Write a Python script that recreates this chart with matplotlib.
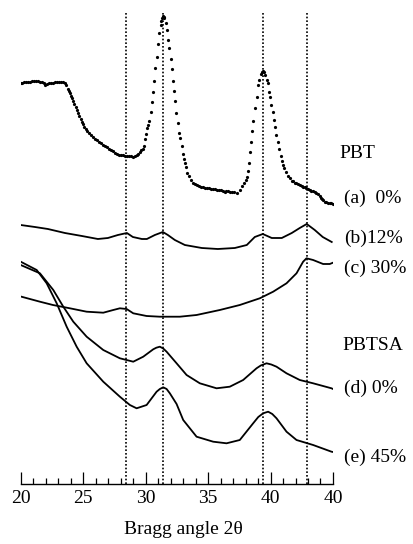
import matplotlib
matplotlib.use("Agg")
import matplotlib.pyplot as plt
from matplotlib.ticker import MultipleLocator, FixedLocator, FixedFormatter

plt.rcParams["font.family"] = ["Liberation Serif", "DejaVu Serif"]

# (a) PBT 0 % -- recorded point by point (drawn as dots)
a_2theta = [20.0, 20.10, 20.26, 20.42, 20.58, 20.74, 20.90, 21.06, 21.22, 21.38, 21.54, 21.70,
            21.86, 21.98, 22.10, 22.26, 22.42, 22.58, 22.74, 22.90, 23.06, 23.22, 23.38, 23.54,
            23.66, 23.78, 23.86, 23.94, 24.02, 24.10, 24.21, 24.30, 24.40, 24.50, 24.61, 24.70,
            24.80, 24.90, 25.01, 25.10, 25.22, 25.34, 25.46, 25.62, 25.78, 25.94, 26.10, 26.26,
            26.42, 26.58, 26.74, 26.90, 27.06, 27.22, 27.38, 27.54, 27.70, 27.86, 28.02, 28.18,
            28.34, 28.50, 28.66, 28.82, 28.98, 29.14, 29.30, 29.42, 29.54, 29.66, 29.76, 29.86,
            29.94, 30.02, 30.13, 30.21, 30.26, 30.40, 30.48, 30.56, 30.66, 30.77, 30.88, 30.98,
            31.06, 31.20, 31.25, 31.30, 31.38, 31.45, 31.49, 31.60, 31.68, 31.81, 31.89, 32.00,
            32.08, 32.18, 32.26, 32.34, 32.45, 32.56, 32.66, 32.74, 32.88, 32.96, 33.06, 33.14,
            33.22, 33.33, 33.44, 33.60, 33.81, 33.94, 34.10, 34.26, 34.42, 34.58, 34.74, 34.90,
            35.06, 35.22, 35.38, 35.54, 35.70, 35.86, 36.02, 36.18, 36.34, 36.46, 36.58, 36.74,
            36.90, 37.06, 37.28, 37.54, 37.73, 37.89, 38.00, 38.08, 38.16, 38.26, 38.34, 38.42,
            38.53, 38.61, 38.74, 38.88, 39.01, 39.09, 39.20, 39.28, 39.36, 39.46, 39.54, 39.68,
            39.76, 39.86, 39.97, 40.05, 40.16, 40.26, 40.37, 40.45, 40.56, 40.66, 40.80, 40.88,
            41.01, 41.09, 41.20, 41.36, 41.54, 41.73, 41.82, 41.94, 42.06, 42.21, 42.34, 42.48,
            42.61, 42.74, 42.88, 43.01, 43.14, 43.28, 43.41, 43.54, 43.68, 43.81, 43.94, 44.04,
            44.13, 44.24, 44.34, 44.48, 44.61, 44.74, 44.88, 45.0]
a_int = [401, 401, 401.5, 402, 401.5, 402, 402.5, 403, 402.5, 403, 402, 402,
         401, 399, 399.5, 400.5, 401, 401, 401.5, 401.5, 402, 402, 401.5, 400.5,
         398.5, 395, 392.5, 390.5, 388, 385.5, 382.5, 379.5, 376.5, 373.5, 370.5, 367.5,
         364.5, 362, 359.5, 357, 354.5, 352.5, 351, 349, 347, 345, 343.5, 342,
         340.5, 339, 337.5, 336.5, 335, 333.5, 332.5, 331, 330, 329, 328.5, 328.5,
         328, 328, 327.5, 328, 327, 327.5, 328.5, 330, 332, 334, 335, 338.3,
         344.7, 349.7, 355.7, 359, 363.3, 371.7, 382.3, 392.3, 403, 415.7, 426.7, 439.7,
         450.7, 459, 463.3, 466.3, 468, 467, 465.7, 461.3, 454, 444, 436.3, 425,
         414.7, 403, 393, 383, 371.3, 361.3, 351.3, 346.3, 338.3, 330, 325, 320.7,
         316.7, 311.3, 308, 304, 300.7, 299.5, 298.5, 297.5, 297, 296.5, 296, 295.5,
         295.5, 295, 295, 294.5, 294, 294, 293.5, 293, 291.5, 293, 292.5, 292,
         291.5, 292, 290.7, 294, 298, 300.7, 304, 307.3, 313.3, 321.3, 332.3, 342.3,
         353.3, 363.3, 376.3, 386.7, 399.3, 404, 410, 412.3, 413.3, 412.3, 409, 404,
         400.7, 392.3, 387.3, 379, 372.3, 364, 357.3, 349, 342.3, 334.7, 328, 323,
         319, 315.7, 312.3, 308, 305.7, 303.3, 302.5, 301.3, 300.5, 299.7, 299, 298,
         297.3, 296.7, 295.7, 294.7, 294, 293.3, 292.5, 291.7, 291, 290, 287.5, 286,
         284.7, 283.5, 282.3, 281.8, 281.3, 281, 280.7, 279.7]

# (b) 12 %
b_2theta = [20.0, 21.14, 22.18, 23.54, 24.90, 26.18, 26.98, 27.78, 28.50, 28.98, 29.70, 30.10,
            30.74, 31.38, 31.78, 32.34, 33.14, 34.50, 35.78, 37.14, 38.10, 38.74, 39.38, 40.10,
            40.90, 41.70, 42.34, 42.90, 43.54, 44.18, 44.90]
b_int = [259, 257, 255, 251, 248, 245, 246, 249, 251, 247, 245, 245,
         249, 252, 249, 244, 239, 236, 235, 236, 239, 247, 250, 246,
         246, 251, 256, 260, 254, 247, 242]

# (c) 30 %
c_2theta = [20.0, 21.54, 22.58, 23.94, 25.28, 26.61, 27.41, 27.94, 28.48, 29.01, 30.08, 31.14,
            32.74, 34.08, 35.94, 37.54, 39.14, 40.21, 41.28, 42.08, 42.61, 42.88, 43.41, 44.21,
            44.74, 45.0]
c_int = [187.5, 182.3, 179, 175.7, 172.3, 171.3, 174, 175.7, 175, 170.7, 168, 167.3,
         167.3, 169, 174, 179, 185.7, 192.3, 200.7, 210.7, 222.3, 225.7, 224, 220,
         220, 221.3]

# PBTSA (d) 0 %
d_2theta = [20.0, 21.54, 22.61, 23.41, 24.21, 25.28, 26.61, 27.94, 29.01, 29.81, 30.61, 30.86,
            31.14, 31.41, 31.68, 32.48, 33.28, 34.34, 35.68, 36.74, 37.81, 38.88, 39.22, 39.68,
            40.06, 40.48, 41.28, 42.34, 43.41, 44.88, 45.0]
d_int = [219, 210.7, 194, 177.3, 162.3, 147.3, 134, 125.7, 122.3, 127.3, 134.7, 136.3,
         137.3, 135.5, 132.3, 120.7, 109, 100.7, 95.7, 97.3, 104, 115.7, 118.5, 120.7,
         119.5, 117.3, 110.7, 104, 100.7, 95.7, 95]

# PBTSA (e) 45 %
e_2theta = [20.0, 21.28, 22.08, 22.88, 23.68, 24.48, 25.28, 26.61, 27.94, 28.74, 29.28, 30.08,
            30.88, 31.14, 31.41, 31.68, 31.94, 32.48, 33.01, 34.08, 35.41, 36.48, 37.54, 38.61,
            39.02, 39.41, 39.81, 40.14, 40.48, 41.28, 42.08, 43.41, 44.88, 45.0]
e_int = [222.3, 214, 200.7, 180.7, 157.3, 137.3, 120.7, 102.3, 87.3, 79, 75.7, 79,
         92.3, 95, 96.7, 95, 90.7, 80, 64, 47.3, 42.3, 40.7, 44, 60.7,
         67, 70.7, 72.3, 70, 65.7, 52.3, 44, 39, 32.3, 32]

# reflection positions marked with dotted guides
ref_lines = [28.45, 31.38, 39.38, 42.9]
ref_top = 472

tick_pos = [20, 25, 30, 35, 40, 45]
tick_lab = ["20", "25", "30", "35", "40", "40"]

fig = plt.figure(figsize=(4.14, 5.44), dpi=100)
ax = fig.add_axes([0.05, 0.1103, 0.7543, 0.8897])
ax.set_xlim(20, 45)
ax.set_ylim(0, 484)

ax.vlines(ref_lines, 0, ref_top, colors="black", linestyles=(0, (1.0, 1.2)), linewidth=1.2)

ax.plot(a_2theta, a_int, linestyle="none", marker="o", markersize=2.3,
        markerfacecolor="black", markeredgecolor="black", markeredgewidth=0)
for xs, ys in [(b_2theta, b_int), (c_2theta, c_int), (d_2theta, d_int), (e_2theta, e_int)]:
    ax.plot(xs, ys, color="black", linewidth=1.3, solid_joinstyle="round")

for side in ("top", "right", "left"):
    ax.spines[side].set_visible(False)
ax.spines["bottom"].set_linewidth(1.0)
ax.set_yticks([])
ax.xaxis.set_major_locator(FixedLocator(tick_pos))
ax.xaxis.set_major_formatter(FixedFormatter(tick_lab))
ax.xaxis.set_minor_locator(MultipleLocator(1))
ax.tick_params(axis="x", which="major", direction="in", length=9, width=0.9,
               labelsize=14, pad=4)
ax.tick_params(axis="x", which="minor", direction="in", length=4.5, width=0.9)

W, H = 414.0, 544.0
def label(px, py, s):
    fig.text(px / W, 1 - py / H, s, fontsize=14, ha="left", va="center")

label(339, 154, "PBT")
label(344, 198, "(a)  0%")
label(344, 238, "(b)12%")
label(344, 268, "(c) 30%")
label(342, 345, "PBTSA")
label(344, 388, "(d) 0%")
label(344, 457, "(e) 45%")

fig.text(183 / W, 1 - 530 / H, "Bragg angle 2θ", fontsize=14, ha="center", va="center")

fig.savefig("out.png", dpi=100)
